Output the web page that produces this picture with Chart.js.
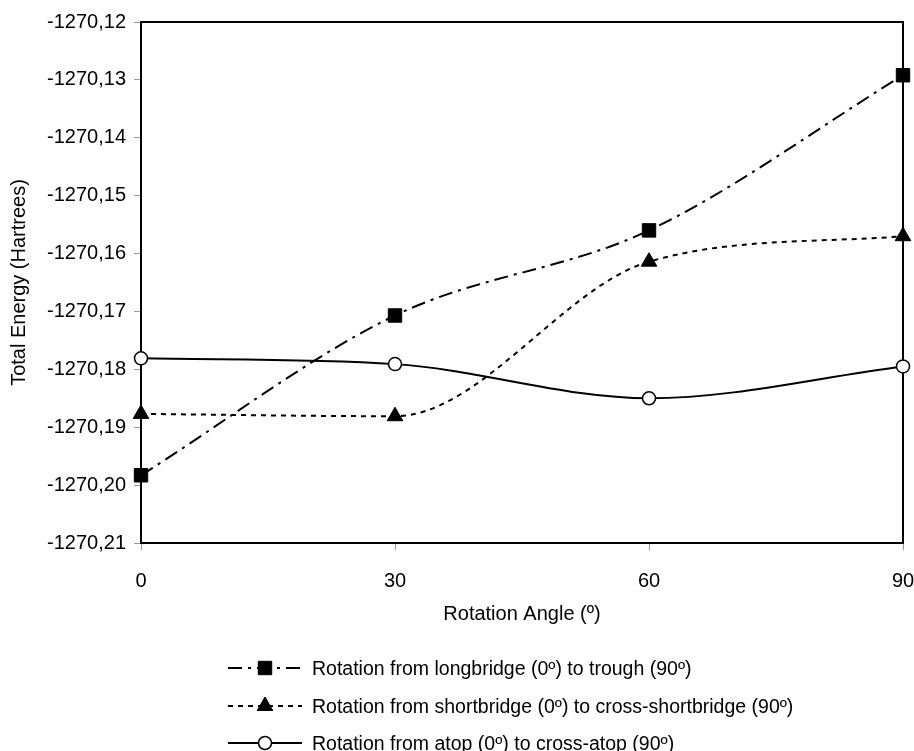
<!DOCTYPE html>
<html>
<head>
<meta charset="utf-8">
<script src="https://cdn.jsdelivr.net/npm/chart.js@4/dist/chart.umd.min.js"></script>
<style>
html,body{margin:0;padding:0;background:#fff;}
#wrap{width:914px;height:751px;position:relative;}
</style>
</head>
<body>
<div id="wrap"><canvas id="c" width="914" height="751"></canvas></div>
<script>
const angles = [0, 30, 60, 90];
const longbridgeToTrough = [-1270.1983, -1270.1707, -1270.1560, -1270.1292];
const shortbridgeToCross = [-1270.1877, -1270.1881, -1270.1614, -1270.1570];
const atopToCrossAtop = [-1270.1781, -1270.1791, -1270.1850, -1270.1795];
const seriesNames = [
  'Rotation from longbridge (0º) to trough (90º)',
  'Rotation from shortbridge (0º) to cross-shortbridge (90º)',
  'Rotation from atop (0º) to cross-atop (90º)'
];
const yMin = -1270.21, yMax = -1270.12, yStep = 0.01;
const xMin = 0, xMax = 90, xStep = 30;

const FONT = "'Liberation Sans', Arial, sans-serif";
function pts(arr){ return angles.map((a,i)=>({x:a,y:arr[i]})); }

const frame = {
  id:'frame',
  beforeDatasetsDraw(chart){
    const {ctx, chartArea:a} = chart;
    ctx.save();
    ctx.strokeStyle = '#000';
    ctx.lineWidth = 2;
    ctx.strokeRect(a.left, a.top, a.right-a.left, a.bottom-a.top);
    ctx.restore();
  }
};

const legendPlugin = {
  id:'customLegend',
  afterDraw(chart){
    const ctx = chart.ctx;
    const rows = [668, 706, 743];
    chart.data.datasets.forEach((ds, i) => {
      const y = rows[i];
      ctx.save();
      ctx.strokeStyle = '#000';
      ctx.lineWidth = 2;
      ctx.setLineDash(ds.borderDash || []);
      ctx.beginPath();
      ctx.moveTo(228, y);
      ctx.lineTo(302, y);
      ctx.stroke();
      ctx.setLineDash([]);
      ctx.fillStyle = ds.pointBackgroundColor;
      ctx.strokeStyle = '#000';
      ctx.lineWidth = ds.pointBorderWidth;
      Chart.helpers.drawPoint(ctx, {pointStyle: ds.pointStyle, radius: ds.pointRadius, rotation:0, borderWidth: ds.pointBorderWidth}, 265, y);
      ctx.fillStyle = '#000';
      ctx.font = '19.5px ' + FONT;
      ctx.textBaseline = 'middle';
      ctx.textAlign = 'left';
      ctx.fillText(seriesNames[i], 312, y + 2);
      ctx.restore();
    });
  }
};

const common = {borderColor:'#000', borderWidth:2, pointBorderColor:'#000', cubicInterpolationMode:'monotone', fill:false, clip:false};

new Chart(document.getElementById('c'), {
  type: 'line',
  data: {
    datasets: [
      Object.assign({
        label: seriesNames[0], data: pts(longbridgeToTrough), borderDash:[14,6,3,6],
        pointStyle:'rect', pointRadius:9.5, pointBackgroundColor:'#000', pointBorderWidth:1
      }, common),
      Object.assign({
        label: seriesNames[1], data: pts(shortbridgeToCross), borderDash:[5,5],
        pointStyle:'triangle', pointRadius:9, pointBackgroundColor:'#000', pointBorderWidth:1
      }, common),
      Object.assign({
        label: seriesNames[2], data: pts(atopToCrossAtop), borderDash:[],
        pointStyle:'circle', pointRadius:6.5, pointBackgroundColor:'#fff', pointBorderWidth:1.5
      }, common)
    ]
  },
  options: {
    responsive:false,
    animation:false,
    devicePixelRatio:1,
    layout:{padding:{top:22, right:11, bottom:118, left:0}},
    plugins:{legend:{display:false}, tooltip:{enabled:false}},
    scales:{
      x:{
        type:'linear', min:xMin, max:xMax,
        ticks:{stepSize:xStep, color:'#000', font:{family:FONT, size:20}, padding:19, callback:v=>String(v)},
        grid:{drawOnChartArea:false, drawTicks:true, tickLength:7, color:'#999'},
        border:{display:false},
        title:{display:true, text:'Rotation Angle (º)', color:'#000', font:{family:FONT, size:20}, padding:{top:4,bottom:7}},
        afterFit(s){ s.height = 90; s.paddingRight = 0; s.paddingLeft = 0; }
      },
      y:{
        type:'linear', min:yMin, max:yMax,
        ticks:{stepSize:yStep, color:'#000', font:{family:FONT, size:20}, padding:8,
          callback:v=>(Math.round(v*100)/100).toFixed(2).replace('.', ',')},
        grid:{drawOnChartArea:false, drawTicks:true, tickLength:7, color:'#999'},
        border:{display:false},
        title:{display:true, text:'Total Energy (Hartrees)', color:'#000', font:{family:FONT, size:20}, padding:{top:7,bottom:0}},
        afterFit(s){ s.width = 141; s.paddingTop = 0; s.paddingBottom = 0; }
      }
    }
  },
  plugins:[frame, legendPlugin]
});
</script>
</body>
</html>
